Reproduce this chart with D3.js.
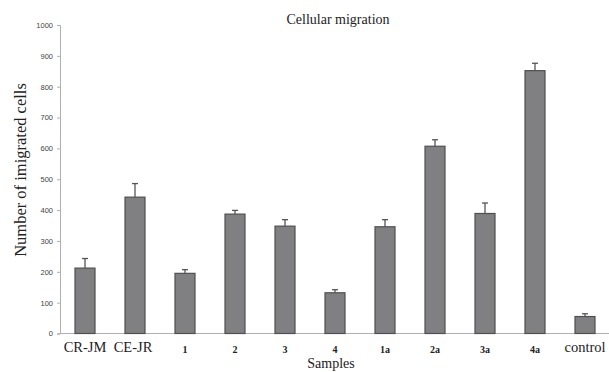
<!DOCTYPE html>
<html>
<head>
<meta charset="utf-8">
<script src="https://cdn.jsdelivr.net/npm/d3@7"></script>
<style>
  body { margin: 0; background: #fff; }
  svg { display: block; }
</style>
</head>
<body>
<svg id="chart"></svg>
<script>
// data
const samples = ['CR-JM', 'CE-JR', '1', '2', '3', '4', '1a', '2a', '3a', '4a', 'control'];
const cellCounts = [212, 442, 195, 387, 348, 132, 346, 607, 389, 852, 55];
const errorTops = [243, 486, 207, 399, 369, 142, 369, 628, 423, 876, 64];
const yTicks = [0, 100, 200, 300, 400, 500, 600, 700, 800, 900, 1000];
const bigLabels = ['CR-JM', 'CE-JR', 'control'];

const W = 609, H = 372;
const svg = d3.select('#chart').attr('width', W).attr('height', H);

const x = d3.scaleBand().domain(samples).range([60, 610]).paddingInner(0.6).paddingOuter(0.3);
const y = d3.scaleLinear().domain([0, 1000]).range([333.5, 25]);

// y axis
const yAxis = svg.append('g').attr('transform', 'translate(60,0)')
  .call(d3.axisLeft(y).tickValues(yTicks).tickFormat(d3.format('d')).tickSize(3).tickPadding(4));
yAxis.select('.domain').attr('stroke', '#b0b0b0');
yAxis.selectAll('.tick line').attr('stroke', '#b0b0b0');
yAxis.selectAll('.tick text')
  .attr('font-family', 'Liberation Sans, Arial, sans-serif')
  .attr('font-size', 7.5).attr('fill', '#444');

// x axis line
svg.append('line')
  .attr('x1', 60).attr('x2', 609)
  .attr('y1', y(0)).attr('y2', y(0))
  .attr('stroke', '#b0b0b0').attr('stroke-width', 1.2);

// bars
svg.selectAll('.bar').data(samples).enter().append('rect')
  .attr('class', 'bar')
  .attr('x', d => x(d))
  .attr('width', x.bandwidth())
  .attr('y', (d, i) => y(cellCounts[i]))
  .attr('height', (d, i) => y(0) - y(cellCounts[i]))
  .attr('fill', '#808083').attr('stroke', '#4f4f4f').attr('stroke-width', 1.2);

// error bars (upper only)
const eb = svg.selectAll('.err').data(samples).enter().append('g').attr('class', 'err');
eb.append('line')
  .attr('x1', d => x(d) + x.bandwidth() / 2).attr('x2', d => x(d) + x.bandwidth() / 2)
  .attr('y1', (d, i) => y(cellCounts[i])).attr('y2', (d, i) => y(errorTops[i]))
  .attr('stroke', '#555').attr('stroke-width', 1.3);
eb.append('line')
  .attr('x1', d => x(d) + x.bandwidth() / 2 - 3).attr('x2', d => x(d) + x.bandwidth() / 2 + 3)
  .attr('y1', (d, i) => y(errorTops[i])).attr('y2', (d, i) => y(errorTops[i]))
  .attr('stroke', '#555').attr('stroke-width', 1.3);

// category labels
svg.selectAll('.cat').data(samples).enter().append('text')
  .attr('class', 'cat')
  .attr('x', d => x(d) + x.bandwidth() / 2 + (d === 'CE-JR' ? -2 : 0))
  .attr('y', d => bigLabels.includes(d) ? 352 : 353)
  .attr('text-anchor', 'middle')
  .attr('font-family', 'Liberation Serif, Times New Roman, serif')
  .attr('font-size', d => bigLabels.includes(d) ? 14.5 : 10)
  .attr('font-weight', d => bigLabels.includes(d) ? 'normal' : 'bold')
  .attr('fill', '#222')
  .text(d => d);

// axis titles
svg.append('text')
  .attr('x', 331).attr('y', 368)
  .attr('text-anchor', 'middle')
  .attr('font-family', 'Liberation Serif, Times New Roman, serif')
  .attr('font-size', 14).attr('fill', '#222')
  .text('Samples');

svg.append('text')
  .attr('transform', 'translate(26,170) rotate(-90)')
  .attr('text-anchor', 'middle')
  .attr('font-family', 'Liberation Serif, Times New Roman, serif')
  .attr('font-size', 16.5).attr('fill', '#222')
  .text('Number of imigrated cells');

svg.append('text')
  .attr('x', 338).attr('y', 24)
  .attr('text-anchor', 'middle')
  .attr('font-family', 'Liberation Serif, Times New Roman, serif')
  .attr('font-size', 14).attr('fill', '#222')
  .text('Cellular migration');
</script>
</body>
</html>
